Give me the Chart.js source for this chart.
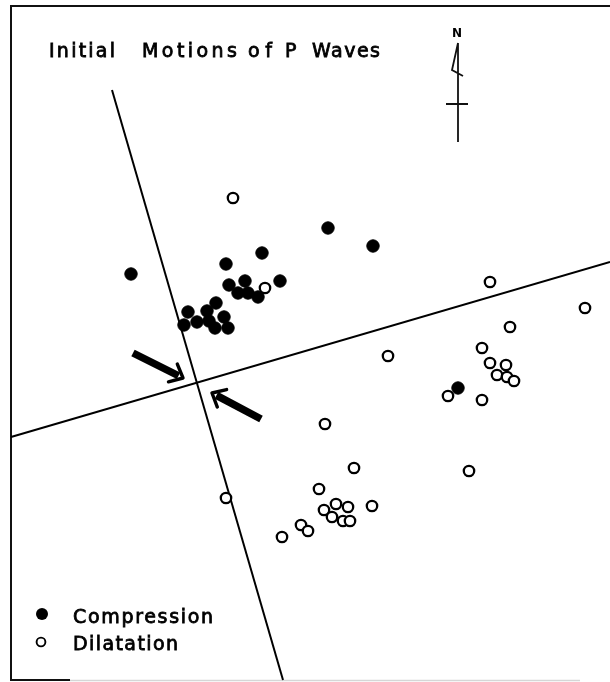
<!DOCTYPE html>
<html>
<head>
<meta charset="utf-8">
<script src="https://cdn.jsdelivr.net/npm/chart.js@4.4.1/dist/chart.umd.min.js"></script>
<style>
html,body{margin:0;padding:0;background:#fff;overflow:hidden}
canvas{display:block}
</style>
</head>
<body>
<canvas id="c" width="610" height="682"></canvas>
<script>
// Station positions on the map (map units = figure pixels, y measured downward)
const compression = [
  {x:131,y:274},{x:226,y:264},{x:262,y:253},{x:328,y:228},{x:373,y:246},
  {x:280,y:281},{x:245,y:281},{x:229,y:285},{x:238,y:293},{x:248,y:293},
  {x:258,y:297},{x:216,y:303},{x:207,y:311},{x:188,y:312},{x:224,y:317},
  {x:209,y:321},{x:184,y:325},{x:197,y:322},{x:215,y:328},{x:228,y:328},
  {x:458,y:388}
];
const dilatation = [
  {x:233,y:198},{x:265,y:288},{x:490,y:282},{x:585,y:308},{x:510,y:327},
  {x:388,y:356},{x:482,y:348},{x:490,y:363},{x:506,y:365},{x:497,y:375},
  {x:507,y:377},{x:514,y:381},{x:448,y:396},{x:482,y:400},{x:325,y:424},
  {x:354,y:468},{x:469,y:471},{x:319,y:489},{x:226,y:498},{x:336,y:504},
  {x:348,y:507},{x:372,y:506},{x:324,y:510},{x:332,y:517},{x:343,y:521},
  {x:350,y:521},{x:301,y:525},{x:308,y:531},{x:282,y:537}
];
// Nodal lines
const nodalLineA = [{x:112,y:90},{x:283,y:680}];
const nodalLineB = [{x:11,y:437},{x:610,y:262}];
// Pressure axis arrows (tail -> head)
const arrowTails = [{x:133,y:353},{x:261,y:419}];
const arrowHeads = [{x:183,y:378},{x:212,y:393}];

const seriesNames = ['Compression','Dilatation'];
const titleWords = ['Initial','Motions','of','P','Waves'];

function fitText(ctx, text, x, y, target){
  ctx.letterSpacing = '0px';
  const w = ctx.measureText(text).width;
  const n = text.length;
  const sp = n > 1 ? (target - w) / (n - 1) : 0;
  ctx.letterSpacing = sp.toFixed(2) + 'px';
  ctx.fillText(text, x, y);
  ctx.strokeText(text, x, y);
  ctx.letterSpacing = '0px';
}

const overlay = {
  id:'overlay',
  beforeDatasetsDraw(chart){
    const ctx = chart.ctx;
    ctx.save();
    // frame
    ctx.strokeStyle = '#111';
    ctx.lineWidth = 2;
    ctx.beginPath();
    ctx.moveTo(610,6); ctx.lineTo(11,6); ctx.lineTo(11,680); ctx.lineTo(70,680);
    ctx.stroke();
    ctx.strokeStyle = '#d6d6d6';
    ctx.lineWidth = 1.5;
    ctx.beginPath(); ctx.moveTo(70,680.5); ctx.lineTo(580,680.5); ctx.stroke();
    // title
    ctx.fillStyle = '#000';
    ctx.strokeStyle = '#000';
    ctx.lineWidth = 0.8;
    ctx.font = '19px "DejaVu Sans"';
    ctx.textBaseline = 'alphabetic';
    ctx.textAlign = 'left';
    const tx = [49,142,248,285,312];
    const tw = [66,95,24,9,68];
    titleWords.forEach((w,i)=>fitText(ctx, w, tx[i], 57, tw[i]));
    // north arrow
    ctx.font = 'bold 12px "DejaVu Sans"';
    ctx.textAlign = 'center';
    ctx.fillText('N', 457, 37);
    ctx.lineWidth = 1.8;
    ctx.strokeStyle = '#111';
    ctx.beginPath();
    ctx.moveTo(458,43); ctx.lineTo(458,142);
    ctx.moveTo(446,104); ctx.lineTo(468,104);
    ctx.moveTo(458,43); ctx.lineTo(452,70); ctx.lineTo(463,76);
    ctx.stroke();
    // legend
    ctx.textAlign = 'left';
    ctx.font = '19px "DejaVu Sans"';
    ctx.strokeStyle = '#000';
    ctx.lineWidth = 0.8;
    fitText(ctx, seriesNames[0], 73, 623, 140);
    fitText(ctx, seriesNames[1], 73, 650, 105);
    ctx.fillStyle = '#000';
    ctx.beginPath(); ctx.arc(42,614,6,0,Math.PI*2); ctx.fill();
    ctx.lineWidth = 1.9;
    ctx.beginPath(); ctx.arc(41,642,4.4,0,Math.PI*2); ctx.stroke();
    ctx.restore();
  },
  afterDatasetsDraw(chart){
    const ctx = chart.ctx;
    const xs = chart.scales.x, ys = chart.scales.y;
    ctx.save();
    ctx.strokeStyle = '#000';
    arrowTails.forEach((t,i)=>{
      const h = arrowHeads[i];
      const x0 = xs.getPixelForValue(t.x), y0 = ys.getPixelForValue(t.y);
      const x1 = xs.getPixelForValue(h.x), y1 = ys.getPixelForValue(h.y);
      const dx = x1-x0, dy = y1-y0, L = Math.hypot(dx,dy);
      const ux = dx/L, uy = dy/L;
      ctx.lineCap = 'butt';
      ctx.lineWidth = 7.5;
      ctx.beginPath();
      ctx.moveTo(x0,y0); ctx.lineTo(x1-ux*5, y1-uy*5);
      ctx.stroke();
      const back = Math.atan2(-uy,-ux);
      ctx.lineWidth = 3.4;
      ctx.lineCap = 'round';
      ctx.beginPath();
      [0.72,-0.72].forEach(a=>{
        ctx.moveTo(x1,y1);
        ctx.lineTo(x1+Math.cos(back+a)*15, y1+Math.sin(back+a)*15);
      });
      ctx.stroke();
    });
    ctx.restore();
  }
};

new Chart(document.getElementById('c'), {
  type:'scatter',
  data:{
    datasets:[
      {label:seriesNames[0], data:compression, order:1,
       pointRadius:6.2, pointHoverRadius:6.2, backgroundColor:'#000', borderColor:'#000', borderWidth:1},
      {label:seriesNames[1], data:dilatation, order:2,
       pointRadius:5.2, pointHoverRadius:5.2, backgroundColor:'#fff', borderColor:'#000', borderWidth:2.3},
      {label:'Nodal line A', data:nodalLineA, order:3, showLine:true, pointRadius:0,
       borderColor:'#000', borderWidth:2},
      {label:'Nodal line B', data:nodalLineB, order:3, showLine:true, pointRadius:0,
       borderColor:'#000', borderWidth:2}
    ]
  },
  options:{
    responsive:false,
    animation:false,
    layout:{padding:0, autoPadding:false},
    plugins:{legend:{display:false}, tooltip:{enabled:false}, title:{display:false}},
    scales:{
      x:{type:'linear', min:0, max:610, display:false},
      y:{type:'linear', min:0, max:682, reverse:true, display:false}
    }
  },
  plugins:[overlay]
});
</script>
</body>
</html>
